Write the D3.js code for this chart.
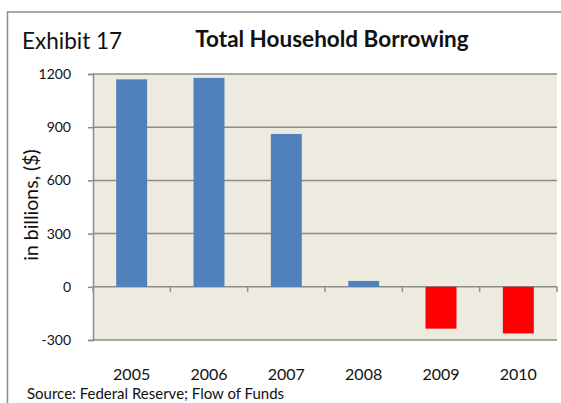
<!DOCTYPE html>
<html>
<head>
<meta charset="utf-8">
<script src="https://cdn.jsdelivr.net/npm/d3@7"></script>
<style>
  body { margin: 0; background: #fff; }
  svg { display: block; font-family: Lato, "Open Sans", sans-serif; }
</style>
</head>
<body>
<div id="chart"></div>
<script>
const years = ['2005', '2006', '2007', '2008', '2009', '2010'];
const borrowing = [1170, 1178, 862, 33, -236, -263];
const yTicks = [-300, 0, 300, 600, 900, 1200];

const width = 561, height = 403;
const margin = { top: 74, right: 4, bottom: 63, left: 93 };

const svg = d3.select('#chart')
    .append('svg')
    .attr('width', width)
    .attr('height', height);

// outer frame (top and left edges only are visible)
svg.append('path')
    .attr('d', `M${width},12H7.5V${height}`)
    .attr('fill', 'none')
    .attr('stroke', '#8c8c8c')
    .attr('stroke-width', 1.5);

const x = d3.scaleBand()
    .domain(years)
    .range([margin.left, width - margin.right])
    .paddingInner(0.6)
    .paddingOuter(0.3);

const y = d3.scaleLinear()
    .domain([-300, 1200])
    .range([height - margin.bottom, margin.top]);

// plot background
svg.append('rect')
    .attr('x', margin.left)
    .attr('y', y(1200))
    .attr('width', width - margin.right - margin.left)
    .attr('height', y(-300) - y(1200))
    .attr('fill', '#edeae0');

// left axis with ticks
const yAxis = svg.append('g')
    .attr('transform', `translate(${margin.left},0)`)
    .call(d3.axisLeft(y).tickValues(yTicks).tickSize(5).tickPadding(17)
        .tickFormat(d => String(d)));
yAxis.select('.domain').attr('stroke', '#8c8c8c').attr('stroke-width', 1.5);
yAxis.selectAll('.tick line').attr('stroke', '#8c8c8c').attr('stroke-width', 1.5);
yAxis.selectAll('.tick text')
    .attr('font-size', 14)
    .attr('fill', '#111')
    .style('font-family', 'Lato, sans-serif');

// gridlines
svg.append('g')
    .selectAll('line')
    .data(yTicks)
    .join('line')
    .attr('x1', margin.left)
    .attr('x2', width - margin.right)
    .attr('y1', d => y(d))
    .attr('y2', d => y(d))
    .attr('stroke', '#8c8c8c')
    .attr('stroke-width', 1.5);

// bars
svg.append('g')
    .selectAll('rect')
    .data(years.map((yr, i) => ({ yr, v: borrowing[i] })))
    .join('rect')
    .attr('x', d => x(d.yr))
    .attr('width', x.bandwidth())
    .attr('y', d => y(Math.max(0, d.v)))
    .attr('height', d => Math.abs(y(d.v) - y(0)))
    .attr('fill', d => d.v < 0 ? '#ff0000' : '#4f81bd');

// category ticks on the zero line, between bands
const bounds = d3.range(years.length + 1).map(i => margin.left + i * (width - margin.right - margin.left) / years.length);
svg.append('g')
    .selectAll('line')
    .data(bounds)
    .join('line')
    .attr('x1', d => d)
    .attr('x2', d => d)
    .attr('y1', y(0))
    .attr('y2', y(0) + 5)
    .attr('stroke', '#8c8c8c')
    .attr('stroke-width', 1.5);

svg.append('g')
    .selectAll('text')
    .data(years)
    .join('text')
    .attr('x', d => x(d) + x.bandwidth() / 2)
    .attr('y', 380)
    .attr('text-anchor', 'middle')
    .attr('font-size', 16)
    .attr('fill', '#111')
    .text(d => d);

// titles
svg.append('text')
    .attr('x', 22)
    .attr('y', 49)
    .attr('font-size', 22.5)
    .attr('fill', '#111')
    .text('Exhibit 17');

svg.append('text')
    .attr('x', 332)
    .attr('y', 47)
    .attr('text-anchor', 'middle')
    .attr('font-size', 22.5)
    .attr('font-weight', 'bold')
    .attr('fill', '#111')
    .text('Total Household Borrowing');

svg.append('text')
    .attr('transform', 'translate(38,205) rotate(-90)')
    .attr('text-anchor', 'middle')
    .attr('font-size', 19.5)
    .attr('fill', '#111')
    .text('in billions, ($)');

svg.append('text')
    .attr('x', 27)
    .attr('y', 399)
    .attr('font-size', 15)
    .attr('fill', '#111')
    .text('Source: Federal Reserve; Flow of Funds');
</script>
</body>
</html>
